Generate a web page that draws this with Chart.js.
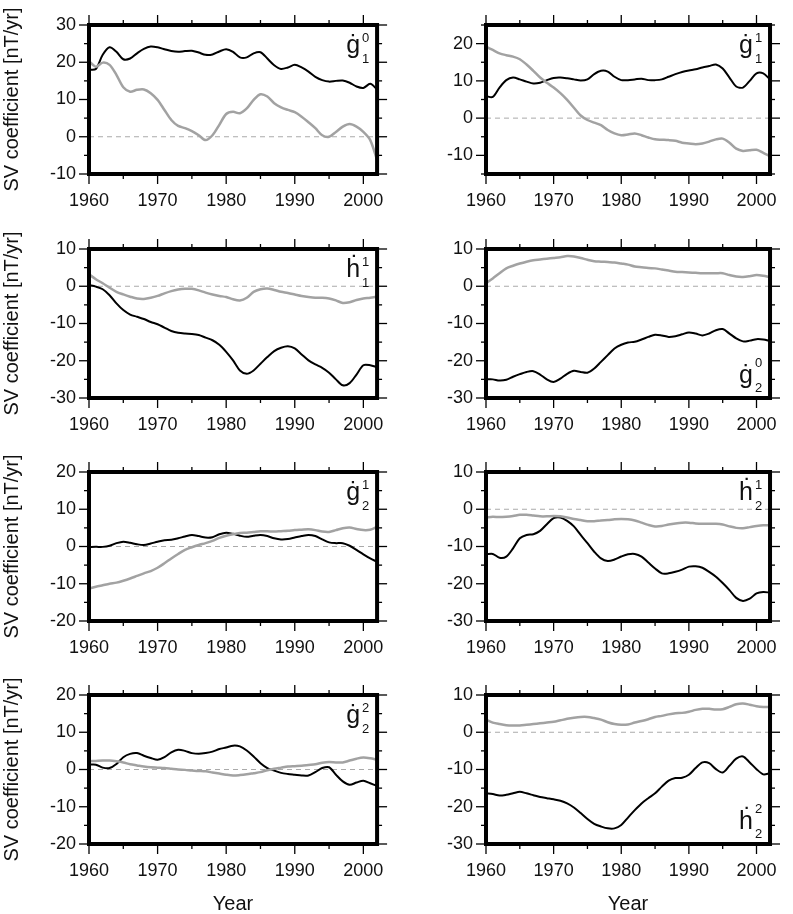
<!DOCTYPE html>
<html>
<head>
<meta charset="utf-8">
<script src="https://cdn.jsdelivr.net/npm/chart.js@4.4.1/dist/chart.umd.min.js"></script>
<style>
  html, body { margin: 0; padding: 0; background: #fff; overflow: hidden; width: 793px; height: 914px; }
  canvas { position: absolute; }
</style>
</head>
<body>
<script>
// ---------- data ----------
const years = [1960,1961,1962,1963,1964,1965,1966,1967,1968,1969,
               1970,1971,1972,1973,1974,1975,1976,1977,1978,1979,
               1980,1981,1982,1983,1984,1985,1986,1987,1988,1989,
               1990,1991,1992,1993,1994,1995,1996,1997,1998,1999,
               2000,2001,2002];
const xTickLabels = [1960, 1970, 1980, 1990, 2000];

const g10Black = [18,18.2,22,24,22.8,20.8,21,22.4,23.6,24.2, 24,23.5,23,22.8,23,23.1,22.6,22,22.1,22.9, 23.5,22.8,21.3,21.3,22.4,22.7,21,19.2,18.2,18.6, 19.3,18.6,17.5,16.1,15.2,14.8,15,15.1,14.5,13.5, 13.1,14.2,12.7];
const g10Gray  = [20.3,18.8,19.9,19.3,16.6,13.3,12.1,12.6,12.7,11.7, 9.9,7.2,4.5,2.9,2.3,1.5,0.4,-0.9,0.4,3.2, 6.1,6.7,6.3,7.6,9.9,11.4,10.8,9,7.9,7.2, 6.6,5.4,3.9,2.3,0.4,0,1.3,2.7,3.4,2.7, 1.3,-0.9,-6.2];

const g11Black = [5.9,5.7,8.2,10.2,10.9,10.4,9.8,9.3,9.5,10.2, 10.8,10.9,10.7,10.4,10.1,10.4,11.8,12.7,12.5,11.1, 10.2,10.2,10.4,10.6,10.2,10.2,10.4,11.1,11.8,12.4, 12.8,13.1,13.6,14,14.4,13.3,10.9,8.5,8.2,10, 12,12,10.4];
const g11Gray  = [19.2,18.3,17.4,16.9,16.5,15.8,14.4,12.7,10.9,9.5, 8.2,6.7,4.9,2.8,0.7,-0.5,-1.2,-1.9,-3.2,-4.1, -4.6,-4.4,-4.1,-4.6,-5.2,-5.7,-5.8,-5.9,-6.1,-6.6, -6.8,-7,-6.8,-6.3,-5.7,-5.5,-6.6,-8.2,-8.8,-8.6, -8.5,-9.3,-10.2];

const h11Black = [0.3,-0.1,-0.8,-2.4,-4.6,-6.4,-7.6,-8.2,-8.8,-9.6, -10.2,-11.1,-12,-12.5,-12.7,-12.8,-13.1,-13.8,-14.5,-15.7, -17.6,-19.9,-22.6,-23.5,-22.6,-20.8,-19,-17.4,-16.5,-16.1, -16.7,-18.3,-19.9,-21,-21.9,-23.2,-25,-26.6,-26,-23.7, -21.2,-21.2,-21.7];
const h11Gray  = [3.2,1.9,0.8,-0.4,-1.5,-2.2,-2.8,-3.3,-3.4,-3.1, -2.6,-1.9,-1.3,-0.9,-0.7,-0.7,-1.1,-1.7,-2.2,-2.6, -2.9,-3.5,-3.8,-3.1,-1.5,-0.8,-0.6,-1,-1.5,-1.8, -2.2,-2.6,-2.9,-3.1,-3.1,-3.3,-3.8,-4.5,-4.3,-3.7, -3.3,-3.1,-2.8];

const g20Black = [-25,-25,-25.3,-25.1,-24.3,-23.6,-23,-22.8,-23.7,-25, -25.7,-24.8,-23.5,-22.7,-23,-23.2,-22.1,-20.3,-18.5,-16.7, -15.7,-15.1,-14.9,-14.3,-13.6,-13,-13.2,-13.6,-13.4,-12.9, -12.4,-12.7,-13.2,-12.7,-11.8,-11.5,-12.7,-14,-14.8,-14.6, -14.2,-14.3,-14.7];
const g20Gray  = [0.8,2.1,3.5,4.8,5.5,6.1,6.6,7,7.2,7.4, 7.6,7.8,8.1,8,7.6,7.1,6.7,6.6,6.5,6.4, 6.1,5.8,5.3,5.1,4.9,4.8,4.5,4.2,3.9,3.8, 3.7,3.6,3.5,3.5,3.5,3.5,3,2.6,2.5,2.7, 3,2.8,2.4];

const g21Black = [-0.2,-0.1,-0.1,0.2,0.9,1.3,1,0.6,0.4,0.8, 1.3,1.7,1.8,2.2,2.7,3.1,2.8,2.4,2.5,3.3, 3.7,3.4,2.9,2.6,2.9,3.1,2.8,2.2,1.9,2, 2.4,2.8,3.1,2.8,1.9,1.1,0.9,0.9,0.2,-0.9, -2.1,-3.2,-4.1];
const g21Gray  = [-11.3,-10.8,-10.4,-10,-9.7,-9.2,-8.6,-7.9,-7.2,-6.6, -5.7,-4.5,-3.2,-2,-0.9,-0.2,0.4,0.9,1.5,2.3, 2.9,3.3,3.6,3.7,3.9,4.1,4.1,4,4.1,4.2, 4.4,4.5,4.6,4.4,4,3.9,4.4,4.9,5.1,4.7, 4.4,4.5,5.3];

const h21Black = [-12.1,-12,-13,-12.7,-10.5,-7.8,-6.9,-6.7,-5.8,-4, -2.4,-2.2,-3.1,-4.6,-6.9,-9.1,-11.4,-13.2,-13.9,-13.5, -12.7,-12.1,-12,-12.7,-14.3,-15.9,-17.2,-17.2,-16.8,-16.2, -15.4,-15.3,-15.7,-16.8,-18.1,-19.8,-21.7,-23.8,-24.6,-24, -22.6,-22.2,-22.4];
const h21Gray  = [-2.2,-2,-2.1,-2,-1.8,-1.5,-1.5,-1.7,-1.9,-1.9, -1.8,-1.9,-2.2,-2.6,-2.9,-3.2,-3.2,-3,-2.9,-2.7, -2.6,-2.7,-3,-3.6,-4.2,-4.6,-4.5,-4.1,-3.8,-3.6, -3.6,-3.8,-3.9,-3.9,-3.9,-4.1,-4.6,-5,-5.1,-4.8, -4.5,-4.3,-4.3];

const g22Black = [1.3,1.3,0.5,0.4,1.5,3.3,4.2,4.4,3.7,3.1, 2.6,3.3,4.6,5.3,5,4.4,4.2,4.4,4.8,5.5, 5.9,6.4,6.2,5.1,3.5,1.7,0.4,-0.3,-0.9,-1.2, -1.4,-1.6,-1.6,-0.7,0.4,0.6,-1.4,-3.2,-4.1,-3.5, -3,-3.7,-4.4];
const g22Gray  = [2.2,2.3,2.4,2.4,2.2,1.9,1.4,1.1,0.8,0.6, 0.5,0.4,0.2,0,-0.1,-0.3,-0.4,-0.5,-0.8,-1.1, -1.4,-1.6,-1.5,-1.3,-1,-0.7,-0.2,0.2,0.5,0.8, 0.9,1,1.2,1.4,1.8,2,1.9,1.9,2.4,2.9, 3.2,3,2.6];

const h22Black = [-16.4,-16.6,-17,-16.8,-16.4,-16,-16.4,-16.9,-17.4,-17.7, -18,-18.4,-19.1,-20.2,-21.7,-23.3,-24.6,-25.3,-25.8,-25.8, -24.9,-22.9,-20.9,-19.1,-17.7,-16.4,-14.6,-13,-12.3,-12.2, -11.4,-9.6,-8.1,-8.3,-9.9,-10.8,-9,-7.1,-6.5,-8.1, -9.9,-11.3,-11];
const h22Gray  = [3.4,2.6,2.2,1.9,1.8,1.8,2,2.2,2.4,2.6, 2.8,3.2,3.6,3.9,4.1,4.1,3.8,3.4,2.7,2.2, 2,2.1,2.6,3,3.5,4.1,4.4,4.8,5.1,5.2, 5.5,6,6.3,6.3,6.1,6.2,6.8,7.5,7.7,7.4, 7,6.8,6.8];

const yTicksA = [30, 20, 10, 0, -10];
const yTicksB = [20, 10, 0, -10];
const yTicksC = [10, 0, -10, -20, -30];
const yTicksD = [20, 10, 0, -10, -20];

const yTitle = 'SV coefficient [nT/yr]';
const xTitle = 'Year';

// ---------- panels ----------
const panels = [
  { col: 0, row: 0, black: g10Black, gray: g10Gray, ymin: -10, ymax: 30, yt: yTicksA, letter: 'ġ', sup: '0', sub: '1', pos: 'top' },
  { col: 1, row: 0, black: g11Black, gray: g11Gray, ymin: -15, ymax: 25, yt: yTicksB, letter: 'ġ', sup: '1', sub: '1', pos: 'top' },
  { col: 0, row: 1, black: h11Black, gray: h11Gray, ymin: -30, ymax: 10, yt: yTicksC, letter: 'ḣ', sup: '1', sub: '1', pos: 'top' },
  { col: 1, row: 1, black: g20Black, gray: g20Gray, ymin: -30, ymax: 10, yt: yTicksC, letter: 'ġ', sup: '0', sub: '2', pos: 'bottom' },
  { col: 0, row: 2, black: g21Black, gray: g21Gray, ymin: -20, ymax: 20, yt: yTicksD, letter: 'ġ', sup: '1', sub: '2', pos: 'top' },
  { col: 1, row: 2, black: h21Black, gray: h21Gray, ymin: -30, ymax: 10, yt: yTicksC, letter: 'ḣ', sup: '1', sub: '2', pos: 'top' },
  { col: 0, row: 3, black: g22Black, gray: g22Gray, ymin: -20, ymax: 20, yt: yTicksD, letter: 'ġ', sup: '2', sub: '2', pos: 'top' },
  { col: 1, row: 3, black: h22Black, gray: h22Gray, ymin: -30, ymax: 10, yt: yTicksC, letter: 'ḣ', sup: '2', sub: '2', pos: 'bottom' }
];

// ---------- layout ----------
const FONT = '"Liberation Sans", Arial, Helvetica, sans-serif';
const colLeft = [0, 400], colWidth = [400, 393], yAxisW = [89, 86], padRight = [13, 10];
const rowChartTop = [25, 249, 472, 695];
const plotH = 149, padTop = 25;

const framePlugin = {
  id: 'frame',
  beforeDatasetsDraw(chart) {
    const { ctx, chartArea: a, scales: { y } } = chart;
    const y0 = y.getPixelForValue(0);
    ctx.save();
    ctx.strokeStyle = '#aaaaaa';
    ctx.lineWidth = 1;
    ctx.setLineDash([5, 4]);
    ctx.beginPath();
    ctx.moveTo(a.left, y0); ctx.lineTo(a.right, y0);
    ctx.stroke();
    ctx.restore();
  },
  afterDraw(chart) {
    const { ctx, chartArea: a, scales: { x, y } } = chart;
    const p = chart.options.plugins.frame;
    ctx.save();
    ctx.strokeStyle = '#000';
    ctx.lineWidth = 1.3;
    const seg = (x1, y1, x2, y2) => { ctx.beginPath(); ctx.moveTo(x1, y1); ctx.lineTo(x2, y2); ctx.stroke(); };
    for (let v = x.min; v <= x.max + 1e-9; v += 5) {
      const len = (v % 10 === 0) ? 10 : 5;
      const px = x.getPixelForValue(v);
      seg(px, a.bottom, px, a.bottom + len);
      seg(px, a.top, px, a.top - len);
    }
    for (let v = y.min; v <= y.max + 1e-9; v += 5) {
      const len = (v % 10 === 0) ? 10 : 5;
      const py = y.getPixelForValue(v);
      seg(a.left, py, a.left - len, py);
      seg(a.right, py, a.right + len, py);
    }
    ctx.lineWidth = 4;
    ctx.strokeRect(a.left, a.top, a.right - a.left, a.bottom - a.top);

    // coefficient label
    ctx.fillStyle = '#111';
    let base, supB, subB;
    if (p.pos === 'top') { base = a.top + 28; supB = a.top + 17; subB = a.top + 38; }
    else { base = a.bottom - 15; supB = a.bottom - 31; subB = a.bottom - 6; }
    ctx.font = '25px ' + FONT;
    ctx.textAlign = 'right';
    ctx.textBaseline = 'alphabetic';
    ctx.fillText(p.letter, a.right - 17, base);
    ctx.font = '13px ' + FONT;
    ctx.textAlign = 'left';
    ctx.fillText(p.sup, a.right - 15, supB);
    ctx.fillText(p.sub, a.right - 15, subB);
    ctx.restore();
  }
};

panels.forEach((p) => {
  const last = p.row === 3;
  const cv = document.createElement('canvas');
  const w = colWidth[p.col];
  const h = last ? 246 : 225;
  const xAxisH = h - padTop - plotH;
  cv.width = w; cv.height = h;
  cv.style.left = colLeft[p.col] + 'px';
  cv.style.top = (rowChartTop[p.row] - padTop) + 'px';
  cv.style.width = w + 'px'; cv.style.height = h + 'px';
  document.body.appendChild(cv);

  const mk = (vals) => years.map((yr, i) => ({ x: yr, y: vals[i] }));

  new Chart(cv, {
    type: 'line',
    data: {
      datasets: [
        { data: mk(p.gray), borderColor: '#a2a2a2', borderWidth: 2.5, pointRadius: 0, tension: 0.3, fill: false },
        { data: mk(p.black), borderColor: '#000000', borderWidth: 2, pointRadius: 0, tension: 0.3, fill: false }
      ]
    },
    options: {
      responsive: false,
      animation: false,
      devicePixelRatio: 1,
      events: [],
      layout: { padding: { left: 0, top: padTop, right: padRight[p.col], bottom: 0 } },
      plugins: {
        legend: { display: false },
        tooltip: { enabled: false },
        frame: { letter: p.letter, sup: p.sup, sub: p.sub, pos: p.pos }
      },
      scales: {
        x: {
          type: 'linear',
          min: 1960, max: 2002,
          bounds: 'data',
          grid: { display: false, drawTicks: false },
          border: { display: false },
          afterBuildTicks: (s) => { s.ticks = xTickLabels.map(v => ({ value: v })); },
          afterFit: (s) => { s.height = xAxisH; },
          ticks: {
            autoSkip: false, maxRotation: 0, padding: 16,
            color: '#111', font: { family: FONT, size: 18 },
            callback: (v) => String(v)
          },
          title: {
            display: last, text: xTitle, color: '#111',
            font: { family: FONT, size: 20 }, padding: { top: 0, bottom: 0 }
          }
        },
        y: {
          type: 'linear',
          min: p.ymin, max: p.ymax,
          bounds: 'data',
          grid: { display: false, drawTicks: false },
          border: { display: false },
          afterBuildTicks: (s) => { s.ticks = p.yt.map(v => ({ value: v })); },
          afterFit: (s) => { s.width = yAxisW[p.col]; },
          ticks: {
            autoSkip: false, padding: 13,
            color: '#111', font: { family: FONT, size: 18 },
            callback: (v) => String(v)
          },
          title: {
            display: p.col === 0, text: yTitle, color: '#111',
            font: { family: FONT, size: 20 }, padding: { top: 0, bottom: 0 }
          }
        }
      }
    },
    plugins: [framePlugin]
  });
});
</script>
</body>
</html>
